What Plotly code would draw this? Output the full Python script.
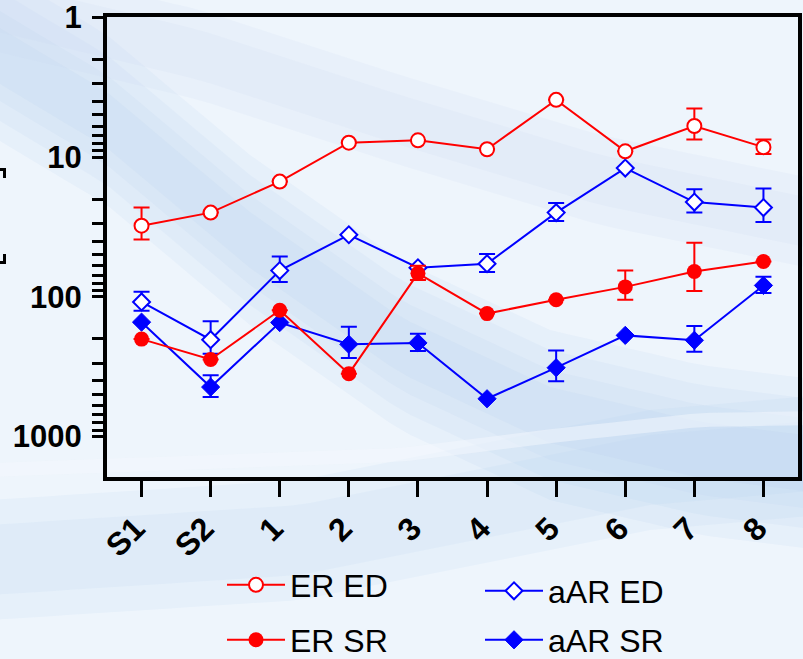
import plotly.graph_objects as go

# Sample order on the x axis
categories = ["S1", "S2", "1", "2", "3", "4", "5", "6", "7", "8"]

# Titers (reciprocal dilution) with SEM where measured
er_ed = [31, 25, 15, 7.9, 7.6, 8.8, 3.9, 9.1, 6.0, 8.5]
er_ed_err = [8, None, None, None, None, None, None, None, 1.5, 1.0]

er_sr = [201, 281, 125, 355, 68, 132, 105, 85, 66, 56]
er_sr_err = [None, None, None, None, 8, None, None, 20, 25, None]

aar_ed = [109, 203, 65, 36, 62, 58, 25, 12, 21, 23]
aar_ed_err = [17, 53, 13.5, None, None, 8.5, 3.7, None, 4, 6.2]

aar_sr = [152, 443, 153, 219, 214, 537, 322, 189, 205, 83]
aar_sr_err = [None, 78, None, 55, 30, None, 80, None, 43, 11]

# Labelled decades plus unlabelled 2..9 ticks inside each decade
y_major = [1, 10, 100, 1000]
y_minor = [m * d for d in (1, 10, 100) for m in range(2, 10)]
y_tickvals = y_major + y_minor
y_ticktext = ["1", "10", "100", "1000"] + [""] * len(y_minor)

RED = "#FF0000"
BLUE = "#0000FF"
W, H = 803, 659
M_L, M_R, M_T, M_B = 107, 5, 17, 182
PW, PH = W - M_L - M_R, H - M_T - M_B
Y_RANGE = [3.29, -0.002]

xi = list(range(len(categories)))


def err(vals, color):
    return dict(type="data", array=vals, symmetric=True, visible=True,
                color=color, thickness=2, width=8)


fig = go.Figure()
fig.add_trace(go.Scatter(
    x=xi, y=aar_ed, name="aAR ED", mode="lines+markers", legend="legend3",
    line=dict(color=BLUE, width=2),
    marker=dict(symbol="diamond", size=13, color="white", line=dict(color=BLUE, width=2)),
    error_y=err(aar_ed_err, BLUE)))
fig.add_trace(go.Scatter(
    x=xi, y=aar_sr, name="aAR SR", mode="lines+markers", legend="legend4",
    line=dict(color=BLUE, width=2),
    marker=dict(symbol="diamond", size=14, color=BLUE, line=dict(color=BLUE, width=1)),
    error_y=err(aar_sr_err, BLUE)))
fig.add_trace(go.Scatter(
    x=xi, y=er_ed, name="ER ED", mode="lines+markers", legend="legend",
    line=dict(color=RED, width=2),
    marker=dict(symbol="circle", size=14, color="white", line=dict(color=RED, width=2)),
    error_y=err(er_ed_err, RED)))
fig.add_trace(go.Scatter(
    x=xi, y=er_sr, name="ER SR", mode="lines+markers", legend="legend2",
    line=dict(color=RED, width=2),
    marker=dict(symbol="circle", size=15, color=RED, line=dict(color=RED, width=0)),
    error_y=err(er_sr_err, RED)))


def px(x, y):
    """pixel position -> paper coordinates"""
    return (x - M_L) / PW, (H - M_B - y) / PH


def interp(curve, x):
    for (x0, y0), (x1, y1) in zip(curve, curve[1:]):
        if x0 <= x <= x1:
            t = (x - x0) / (x1 - x0)
            return y0 + t * (y1 - y0)
    return curve[-1][1]


def band_path(curve, half):
    xs = list(range(-10, W + 20, 20))
    up = [px(x, interp(curve, x) - half) for x in xs]
    lo = [px(x, interp(curve, x) + half) for x in xs][::-1]
    pts = up + lo
    return "M " + " L ".join(f"{a:.4f},{b:.4f}" for a, b in pts) + " Z"


shapes = []
# soft diagonal swooshes, layered for a gradient edge
main_curve = [(-10, 50), (107, 120), (250, 240), (400, 345), (550, 415), (700, 450), (820, 465)]
for half in (85, 65, 45, 28):
    shapes.append(dict(type="path", xref="paper", yref="paper", path=band_path(main_curve, half),
                       fillcolor="#A8C5E8", opacity=0.10, line=dict(width=0), layer="below"))
upper_curve = [(-10, 5), (200, 55), (400, 120), (600, 180), (820, 225)]
for half in (45, 25):
    shapes.append(dict(type="path", xref="paper", yref="paper", path=band_path(upper_curve, half),
                       fillcolor="#C3D8F0", opacity=0.14, line=dict(width=0), layer="below"))
lower_curve = [(-10, 560), (300, 540), (500, 500), (650, 470), (820, 455)]
for half in (60, 35):
    shapes.append(dict(type="path", xref="paper", yref="paper", path=band_path(lower_curve, half),
                       fillcolor="#AFCBEB", opacity=0.12, line=dict(width=0), layer="below"))
streak_curve = [(-10, 470), (400, 455), (560, 435), (700, 420), (820, 418)]
shapes.append(dict(type="path", xref="paper", yref="paper", path=band_path(streak_curve, 7),
                   fillcolor="#F4F8FD", opacity=0.5, line=dict(width=0), layer="below"))

# small bracket fragments at the far left edge
for (x0, y0, x1, y1) in [(0, 168, 6, 171), (3, 168, 6, 178), (3, 254, 6, 264), (0, 261, 6, 264)]:
    a0, b0 = px(x0, y0)
    a1, b1 = px(x1, y1)
    shapes.append(dict(type="rect", xref="paper", yref="paper", x0=a0, x1=a1, y0=b0, y1=b1,
                       fillcolor="black", line=dict(width=0), layer="above"))

tick_font = dict(family="Liberation Sans, Arial", size=31, color="black", weight="bold")
leg_font = dict(family="Liberation Sans, Arial", size=32, color="black")

fig.update_layout(
    width=W, height=H,
    margin=dict(l=M_L, r=M_R, t=M_T, b=M_B, pad=0, autoexpand=False),
    paper_bgcolor="#EEF5FC",
    plot_bgcolor="rgba(0,0,0,0)",
    shapes=shapes,
    xaxis=dict(
        range=[-0.5, 9.5], tickmode="array", tickvals=xi, ticktext=categories,
        tickangle=-45, ticks="outside", ticklen=16, tickwidth=3, tickcolor="black",
        ticklabelshift=-6,
        showline=True, linewidth=4, linecolor="black", mirror=True,
        showgrid=False, zeroline=False, automargin=False,
        tickfont=dict(family="Liberation Sans, Arial", size=32, color="black", weight="bold"),
    ),
    yaxis=dict(
        type="log", range=Y_RANGE, tickmode="array", tickvals=y_tickvals, ticktext=y_ticktext,
        ticks="outside", ticklen=11, tickwidth=3, tickcolor="black", ticklabelstandoff=4,
        showline=True, linewidth=4, linecolor="black", mirror=True,
        showgrid=False, zeroline=False, tickfont=tick_font, automargin=False,
    ),
    showlegend=True,
)

leg_common = dict(bgcolor="rgba(0,0,0,0)", borderwidth=0, font=leg_font,
                  xref="container", yref="container", xanchor="left", yanchor="middle",
                  itemwidth=58)
fig.update_layout(
    legend=dict(x=222 / W, y=1 - 585 / H, **leg_common),
    legend2=dict(x=222 / W, y=1 - 640 / H, **leg_common),
    legend3=dict(x=480 / W, y=1 - 591 / H, **leg_common),
    legend4=dict(x=480 / W, y=1 - 640 / H, **leg_common),
)

fig.write_html("out.html")
